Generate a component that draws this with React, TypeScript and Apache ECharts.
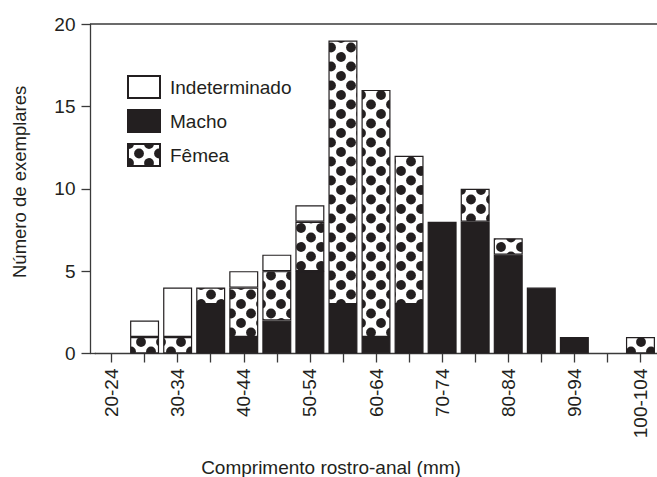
import React, { useEffect, useRef } from "react";
import * as echarts from "echarts";

const categories = [
  "20-24", "25-29", "30-34", "35-39", "40-44", "45-49", "50-54", "55-59", "60-64",
  "65-69", "70-74", "75-79", "80-84", "85-89", "90-94", "95-99", "100-104",
];
const macho = [0, 0, 0, 3, 1, 2, 5, 3, 1, 3, 8, 8, 6, 4, 1, 0, 0];
const femea = [0, 1, 1, 1, 3, 3, 3, 16, 15, 9, 0, 2, 1, 0, 0, 0, 1];
const indeterminado = [0, 1, 3, 0, 1, 1, 1, 0, 0, 0, 0, 0, 0, 0, 0, 0, 0];
const yMax = 20;
const yStep = 5;

const INK = "#231f20";
const AXIS = "#3a3a3a";
const FONT = "Liberation Sans, Arial, sans-serif";

const GRID_LEFT = 95;
const GRID_TOP = 24;
const GRID_W = 562;
const GRID_H = 329.5;
const Y_OFFSET = 4.5;
const BAR_W = 29;
const LEGEND_LEFT = 127;
const LEGEND_TOP = 75;

const dotTile =
  "<svg xmlns='http://www.w3.org/2000/svg' width='20' height='19'>" +
  "<rect width='20' height='19' fill='#ffffff'/>" +
  "<g fill='" + INK + "'>" +
  "<circle cx='11' cy='9.5' r='4.9'/>" +
  "<circle cx='1' cy='0' r='4.9'/><circle cx='21' cy='0' r='4.9'/>" +
  "<circle cx='1' cy='19' r='4.9'/><circle cx='21' cy='19' r='4.9'/>" +
  "</g></svg>";
const dotUrl = "data:image/svg+xml;charset=utf-8," + encodeURIComponent(dotTile);

const makePattern = (x: number, y: number): any => ({
  image: dotUrl,
  repeat: "repeat",
  imageWidth: 20,
  imageHeight: 19,
  x,
  y,
});

const toData = (arr: number[]) => arr.map((v) => (v ? v : "-"));

export default function App() {
  const ref = useRef<HTMLDivElement>(null);

  useEffect(() => {
    const el = ref.current!;
    const chart = echarts.init(el, null, { renderer: "svg" });
    const axisX = GRID_LEFT - Y_OFFSET;
    const option: any = {
      animation: false,
      textStyle: { fontFamily: FONT, color: INK },
      grid: { left: GRID_LEFT, top: GRID_TOP, width: GRID_W, height: GRID_H, containLabel: false },
      legend: {
        data: ["Indeterminado", "Macho", "Fêmea"],
        orient: "vertical",
        left: LEGEND_LEFT,
        top: LEGEND_TOP,
        padding: 0,
        icon: "rect",
        itemWidth: 32,
        itemHeight: 22,
        itemGap: 10,
        selectedMode: false,
        textStyle: { fontSize: 19, color: INK, fontFamily: FONT, padding: [0, 0, 0, 5] },
      },
      xAxis: {
        type: "category",
        data: categories,
        axisLine: { show: true, lineStyle: { color: AXIS, width: 1.3 } },
        axisTick: { show: true, alignWithLabel: true, interval: 0, length: 9, lineStyle: { color: AXIS, width: 1.3 } },
        axisLabel: { interval: 1, rotate: 90, fontSize: 19, margin: 15, color: INK, fontFamily: FONT },
        splitLine: { show: false },
      },
      yAxis: {
        type: "value",
        min: 0,
        max: yMax,
        interval: yStep,
        offset: Y_OFFSET,
        axisLine: { show: true, lineStyle: { color: AXIS, width: 1.3 } },
        axisTick: { show: true, length: 9, lineStyle: { color: AXIS, width: 1.3 } },
        axisLabel: { fontSize: 19, margin: 15, color: INK, fontFamily: FONT },
        splitLine: { show: false },
      },
      graphic: [
        {
          type: "line",
          shape: { x1: axisX, y1: GRID_TOP, x2: 657, y2: GRID_TOP },
          style: { stroke: AXIS, lineWidth: 1.3 },
        },
        {
          type: "line",
          shape: { x1: axisX, y1: GRID_TOP + GRID_H, x2: GRID_LEFT + 1, y2: GRID_TOP + GRID_H },
          style: { stroke: AXIS, lineWidth: 1.3 },
        },
        {
          type: "text",
          x: 19,
          y: 278,
          rotation: Math.PI / 2,
          style: {
            text: "Número de exemplares",
            fontSize: 18.5,
            fontFamily: FONT,
            fill: INK,
            textAlign: "left",
            textVerticalAlign: "middle",
          },
        },
        {
          type: "text",
          x: 331,
          y: 467,
          style: {
            text: "Comprimento rostro-anal (mm)",
            fontSize: 19,
            fontFamily: FONT,
            fill: INK,
            textAlign: "center",
            textVerticalAlign: "middle",
          },
        },
      ],
      series: [
        {
          id: "macho",
          name: "Macho",
          type: "bar",
          stack: "total",
          barWidth: BAR_W,
          data: toData(macho),
          itemStyle: { color: INK, borderColor: INK, borderWidth: 1.2 },
        },
        {
          id: "femea",
          name: "Fêmea",
          type: "bar",
          stack: "total",
          barWidth: BAR_W,
          data: toData(femea),
          itemStyle: {
            color: makePattern(LEGEND_LEFT, LEGEND_TOP + 64),
            borderColor: INK,
            borderWidth: 1.2,
          },
        },
        {
          id: "indet",
          name: "Indeterminado",
          type: "bar",
          stack: "total",
          barWidth: BAR_W,
          data: toData(indeterminado),
          itemStyle: { color: "#ffffff", borderColor: INK, borderWidth: 1.2 },
        },
      ],
    };
    chart.setOption(option);

    const femeaData = femea.map((v, i) => {
      if (!v) return "-";
      const pt = chart.convertToPixel({ gridIndex: 0 } as any, [i, macho[i] + v]) as number[];
      return {
        value: v,
        itemStyle: { color: makePattern(pt[0] - BAR_W / 2, pt[1]) },
      };
    });
    chart.setOption({ series: [{ id: "femea", data: femeaData }] });

    return () => chart.dispose();
  }, []);

  return (
    <div
      ref={ref}
      style={{ position: "fixed", left: 0, top: 0, width: 657, height: 477, background: "#fff" }}
    />
  );
}
